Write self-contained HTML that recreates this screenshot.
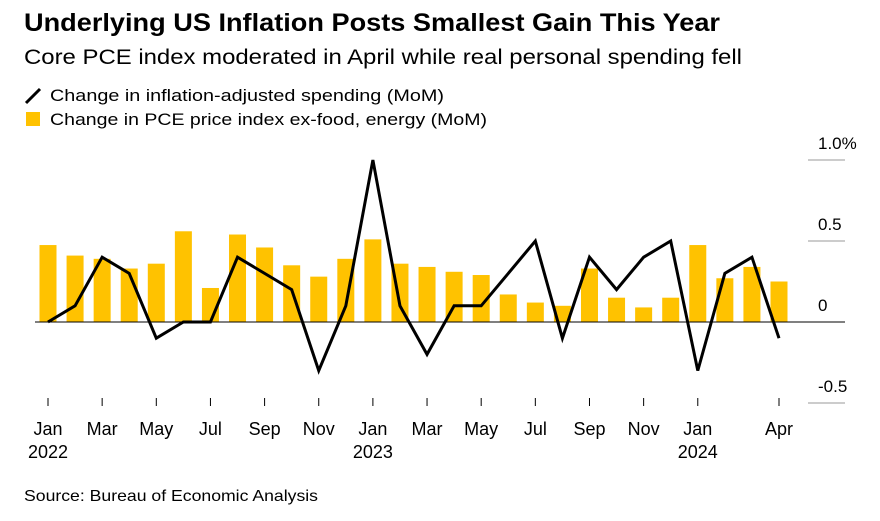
<!DOCTYPE html>
<html><head><meta charset="utf-8"><style>
body{margin:0;background:#fff;width:880px;height:516px;overflow:hidden;font-family:"Liberation Sans",sans-serif}
</style></head><body>
<svg width="880" height="516" font-family="Liberation Sans, sans-serif">
<text x="24" y="31" font-size="25" font-weight="bold" fill="#000" textLength="696" lengthAdjust="spacingAndGlyphs">Underlying US Inflation Posts Smallest Gain This Year</text>
<text x="24" y="64" font-size="21" fill="#000" textLength="718" lengthAdjust="spacingAndGlyphs">Core PCE index moderated in April while real personal spending fell</text>
<g>
<line x1="26" y1="103" x2="40" y2="89" stroke="#000" stroke-width="3"/>
<text x="50" y="101" font-size="17" textLength="394" lengthAdjust="spacingAndGlyphs">Change in inflation-adjusted spending (MoM)</text>
<rect x="26" y="112" width="14" height="14" fill="#ffc200"/>
<text x="50" y="125" font-size="17" textLength="437" lengthAdjust="spacingAndGlyphs">Change in PCE price index ex-food, energy (MoM)</text>
</g>
<g id="plot"></g>
<text x="24" y="501" font-size="16" fill="#000" textLength="294" lengthAdjust="spacingAndGlyphs">Source: Bureau of Economic Analysis</text>
</svg>
<script>
const months=["Jan","Feb","Mar","Apr","May","Jun","Jul","Aug","Sep","Oct","Nov","Dec","Jan","Feb","Mar","Apr","May","Jun","Jul","Aug","Sep","Oct","Nov","Dec","Jan","Feb","Mar","Apr"];
const pceValues=[0.475,0.41,0.39,0.33,0.36,0.56,0.21,0.54,0.46,0.35,0.28,0.39,0.51,0.36,0.34,0.31,0.29,0.17,0.12,0.10,0.33,0.15,0.09,0.15,0.475,0.27,0.34,0.25];
const spendingValues=[0,0.1,0.4,0.3,-0.1,0,0,0.4,0.3,0.2,-0.3,0.1,1.0,0.1,-0.2,0.1,0.1,0.3,0.5,-0.1,0.4,0.2,0.4,0.5,-0.3,0.3,0.4,-0.1];
const yTicks=[1.0,0.5,0,-0.5];
const yTickLabels=["1.0%","0.5","0","-0.5"];
const xLabelIdx=[0,2,4,6,8,10,12,14,16,18,20,22,24,27];
const years={0:"2022",12:"2023",24:"2024"};
const ns="http://www.w3.org/2000/svg";
const g=document.getElementById('plot');
const x=i=>48+i*(779-48)/27;
const y=v=>322-v*162;
function mk(t,a){const e=document.createElementNS(ns,t);for(const k in a)e.setAttribute(k,a[k]);g.appendChild(e);return e;}
yTicks.forEach((v,i)=>{
 const l=mk('line',{x1:v===0?35:808,x2:845,y1:y(v),y2:y(v),stroke:v===0?'#000':'#999','stroke-width':1});
 
 
 const t=mk('text',{x:818,y:y(v)-11,'font-size':17,fill:'#000'});
 t.textContent=yTickLabels[i];
 
 
});
pceValues.forEach((v,i)=>{
 const r=mk('rect',{x:x(i)-8.5,y:Math.min(y(v),y(0)),width:17,height:Math.abs(y(v)-y(0)),fill:'#ffc200'});
 
 
});
const zl=mk('line',{x1:35,x2:800,y1:y(0),y2:y(0),stroke:'#000','stroke-width':1});


const p=mk('polyline',{points:spendingValues.map((v,i)=>x(i)+','+y(v)).join(' '),fill:'none',stroke:'#000','stroke-width':3,'stroke-linejoin':'miter'});


months.forEach((m,i)=>{
 if(xLabelIdx.includes(i)){
  const tk=mk('line',{x1:x(i),x2:x(i),y1:398,y2:406,stroke:'#000'});
  
  
  const t=mk('text',{x:x(i),y:435,'font-size':18,'text-anchor':'middle'});
  t.textContent=m;
  
  
 }
 if(years[i]){
  const t=mk('text',{x:x(i),y:458,'font-size':18,'text-anchor':'middle'});
  t.textContent=years[i];
  
  
 }
});
</script>
</body></html>
